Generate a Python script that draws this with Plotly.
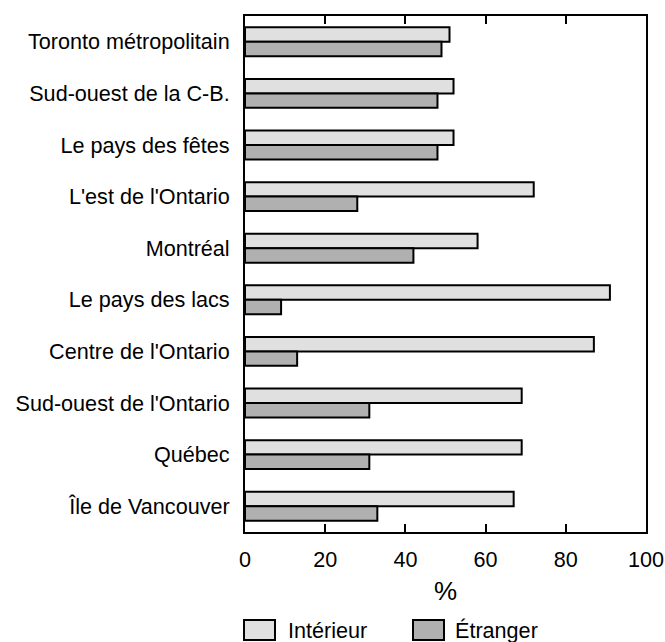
import plotly.graph_objects as go

categories = ["Toronto métropolitain", "Sud-ouest de la C-B.", "Le pays des fêtes",
              "L'est de l'Ontario", "Montréal", "Le pays des lacs", "Centre de l'Ontario",
              "Sud-ouest de l'Ontario", "Québec", "Île de Vancouver"]
interieur = [51, 52, 52, 72, 58, 91, 87, 69, 69, 67]
etranger = [49, 48, 48, 28, 42, 9, 13, 31, 31, 33]
series_names = ["Intérieur", "Étranger"]
x_ticks = [0, 20, 40, 60, 80, 100]

colors = ["#e0e0e0", "#b0b0b0"]
FONT = "Liberation Sans, Arial, sans-serif"
FS = 21.6

W, H = 665, 642
L, R, T, B = 245, 19, 16, 110
PW, PH = W - L - R, H - T - B

fig = go.Figure()
for name, vals, col in zip(series_names, [interieur, etranger], colors):
    fig.add_trace(go.Bar(
        y=categories, x=vals, name=name, orientation="h",
        marker=dict(color=col, line=dict(color="black", width=2)),
        showlegend=False,
    ))

fig.update_layout(
    width=W, height=H,
    margin=dict(l=L, r=R, t=T, b=B),
    barmode="group", bargap=0.44, bargroupgap=0,
    plot_bgcolor="white", paper_bgcolor="white",
    font=dict(family=FONT, size=FS, color="black"),
    xaxis=dict(range=[0, 100], tickvals=x_ticks, ticks="inside", ticklen=8, tickwidth=2,
               tickcolor="black", showline=True, linecolor="black", linewidth=2,
               mirror="ticks", showgrid=False, zeroline=False, automargin=False,
               title=dict(text="%", standoff=11), ticklabelstandoff=7),
    yaxis=dict(autorange="reversed", showline=True, linecolor="black", linewidth=2,
               mirror=True, showgrid=False, ticks="", ticklabelstandoff=9,
               automargin=False),
)


def px_x(x):
    return (x - L) / PW


def px_y(y):
    return (H - B - y) / PH


# Legend drawn manually (boxes + labels)
leg_box_x = [(244, 275), (413, 444)]
leg_text_x = [286, 453]
for name, col, (x0, x1), xt in zip(series_names, colors, leg_box_x, leg_text_x):
    fig.add_shape(type="rect", xref="paper", yref="paper",
                  x0=px_x(x0), x1=px_x(x1),
                  y0=px_y(620), y1=px_y(640),
                  fillcolor=col, line=dict(color="black", width=2))
    fig.add_annotation(xref="paper", yref="paper", x=px_x(xt),
                       y=px_y(630), text=name, showarrow=False,
                       xanchor="left", yanchor="middle", font=dict(size=FS))

fig.write_html("out.html", config={"displayModeBar": False},
               post_script="document.body.style.margin='0';")
